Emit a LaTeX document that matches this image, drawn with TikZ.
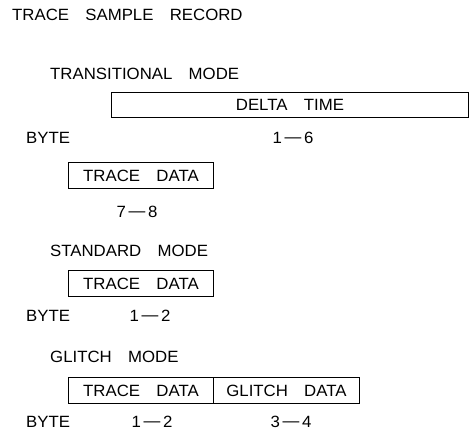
\documentclass[tikz,border=0pt]{standalone}
\usepackage{fontspec}
\setmainfont{Liberation Sans}[FakeStretch=1.03, WordSpace=3.5]
\newcommand\rng[2]{#1\,\raisebox{1.2pt}{---}\,#2}
\begin{document}
\begin{tikzpicture}[
    x=1pt, y=-1pt,
    lbl/.style={font=\fontsize{16.3}{19}\selectfont, inner sep=0pt, anchor=base west},
    num/.style={font=\fontsize{16.3}{19}\selectfont, inner sep=0pt, anchor=base},
    fld/.style={draw, line width=0.9pt, font=\fontsize{16.3}{19}\selectfont, inner sep=0pt, anchor=north west, minimum height=26pt},
  ]
    \useasboundingbox (0,0) rectangle (469,438);
    \def\bx{68}   % left edge of the trace data boxes
    \def\lx{50}   % left edge of the mode titles

    % === Title ===
    \node[lbl] (title) at (12,21) {TRACE SAMPLE RECORD};

    % === Transitional mode ===
    \node[lbl] (tmode) at (\lx,80) {TRANSITIONAL MODE};
    \node[fld, minimum width=357pt, minimum height=25pt] (tdelta) at (111,92) {DELTA TIME};
    \node[lbl] (tbyte) at (26,144) {BYTE};
    \node[num] (trng1) at (293,144) {\rng{1}{6}};
    \node[fld, minimum width=145pt] (ttrace) at (\bx,162) {TRACE DATA};
    \node[num] (trng2) at (137,218) {\rng{7}{8}};

    % === Standard mode ===
    \node[lbl] (smode) at (\lx,257) {STANDARD MODE};
    \node[fld, minimum width=145pt] (strace) at (\bx,270) {TRACE DATA};
    \node[lbl] (sbyte) at (26,322) {BYTE};
    \node[num] (srng) at (150,322) {\rng{1}{2}};

    % === Glitch mode ===
    \node[lbl] (gmode) at (\lx,363) {GLITCH MODE};
    \node[fld, minimum width=145pt] (gtrace) at (\bx,377) {TRACE DATA};
    \node[fld, minimum width=146pt] (gglitch) at (213,377) {GLITCH DATA};
    \node[lbl] (gbyte) at (26,428) {BYTE};
    \node[num] (grng1) at (152,428) {\rng{1}{2}};
    \node[num] (grng2) at (291,428) {\rng{3}{4}};
  \end{tikzpicture}
\end{document}
